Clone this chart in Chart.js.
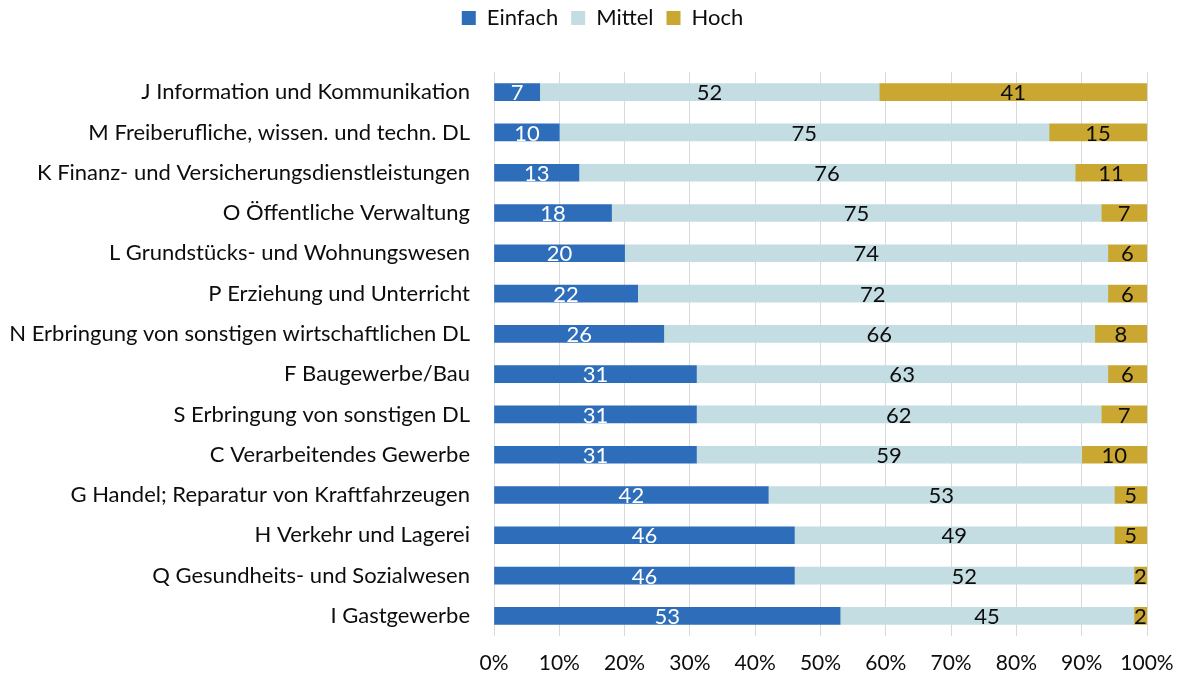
<!DOCTYPE html>
<html>
<head>
<meta charset="utf-8">
<script src="https://cdn.jsdelivr.net/npm/chart.js@4"></script>
<style>
  html, body { margin: 0; padding: 0; background: #fff; }
  canvas { display: block; }
</style>
</head>
<body>
<canvas id="chart" width="1181" height="677"></canvas>
<script>
// Wirtschaftszweige (Abschnitte der WZ)
const categories = [
  'J Information und Kommunikation',
  'M Freiberufliche, wissen. und techn. DL',
  'K Finanz- und Versicherungsdienstleistungen',
  'O Öffentliche Verwaltung',
  'L Grundstücks- und Wohnungswesen',
  'P Erziehung und Unterricht',
  'N Erbringung von sonstigen wirtschaftlichen DL',
  'F Baugewerbe/Bau',
  'S Erbringung von sonstigen DL',
  'C Verarbeitendes Gewerbe',
  'G Handel; Reparatur von Kraftfahrzeugen',
  'H Verkehr und Lagerei',
  'Q Gesundheits- und Sozialwesen',
  'I Gastgewerbe'
];

// Anteile in Prozent je Anforderungsniveau
const einfach = [7, 10, 13, 18, 20, 22, 26, 31, 31, 31, 42, 46, 46, 53];
const mittel  = [52, 75, 76, 75, 74, 72, 66, 63, 62, 59, 53, 49, 52, 45];
const hoch    = [41, 15, 11, 7, 6, 6, 8, 6, 7, 10, 5, 5, 2, 2];

// Prozent-Achse
const xTickValues = [0, 10, 20, 30, 40, 50, 60, 70, 80, 90, 100];

const FONT = 'Lato, "Open Sans", sans-serif';
const TEXT = '#0d0d0d';

// Werte mittig in jedes Segment schreiben
const segmentLabels = {
  id: 'segmentLabels',
  afterDatasetsDraw(chart) {
    const ctx = chart.ctx;
    ctx.save();
    ctx.font = '22px ' + FONT;
    ctx.textAlign = 'center';
    ctx.textBaseline = 'middle';
    chart.data.datasets.forEach((ds, di) => {
      const meta = chart.getDatasetMeta(di);
      if (meta.hidden) return;
      ctx.fillStyle = di === 0 ? '#ffffff' : TEXT;
      meta.data.forEach((bar, i) => {
        const v = ds.data[i];
        const x = (bar.x + bar.base) / 2;
        ctx.fillText(String(v), x, bar.y + 1);
      });
    });
    ctx.restore();
  }
};

// Legende: Abstand zur Diagrammfläche und Lage über den Balken
const legendPlacement = {
  id: 'legendPlacement',
  afterInit(chart) {
    const legend = chart.legend;
    if (!legend) return;
    const fit = legend.fit;
    legend.fit = function () {
      fit.call(this);
      this.height += 27;
    };
  },
  afterLayout(chart) {
    const legend = chart.legend;
    if (!legend) return;
    legend.left += 29;
    legend.right += 29;
    legend.top -= 6;
    legend.bottom -= 6;
  }
};

new Chart(document.getElementById('chart'), {
  type: 'bar',
  data: {
    labels: categories,
    datasets: [
      { label: 'Einfach', data: einfach, backgroundColor: '#2E6DB9' },
      { label: 'Mittel',  data: mittel,  backgroundColor: '#C3DDE2' },
      { label: 'Hoch',    data: hoch,    backgroundColor: '#C9A731' }
    ]
  },
  options: {
    indexAxis: 'y',
    responsive: false,
    animation: false,
    maintainAspectRatio: false,
    datasets: { bar: { barThickness: 17 } },
    layout: { padding: { left: 0, right: 34, top: 0, bottom: 0 } },
    plugins: {
      legend: {
        position: 'top',
        labels: {
          boxWidth: 14,
          boxHeight: 14,
          padding: 13,
          color: TEXT,
          font: { family: FONT, size: 22 }
        }
      },
      tooltip: { enabled: false }
    },
    scales: {
      x: {
        stacked: true,
        min: 0,
        max: 100,
        afterBuildTicks(scale) {
          scale.ticks = xTickValues.map(v => ({ value: v }));
        },
        afterFit(scale) {
          scale.height = 41;
          scale.paddingLeft = 0;
          scale.paddingRight = 0;
        },
        ticks: {
          padding: 15,
          color: TEXT,
          font: { family: FONT, size: 21 },
          callback: v => v + '%'
        },
        grid: { color: '#D9D9D9', lineWidth: 1, drawTicks: false },
        border: { display: false }
      },
      y: {
        stacked: true,
        afterFit(scale) { scale.width = 494; },
        ticks: {
          padding: 24,
          color: TEXT,
          font: { family: FONT, size: 22 },
          autoSkip: false
        },
        grid: { display: false, drawTicks: false },
        border: { display: false }
      }
    }
  },
  plugins: [segmentLabels, legendPlacement]
});
</script>
</body>
</html>
